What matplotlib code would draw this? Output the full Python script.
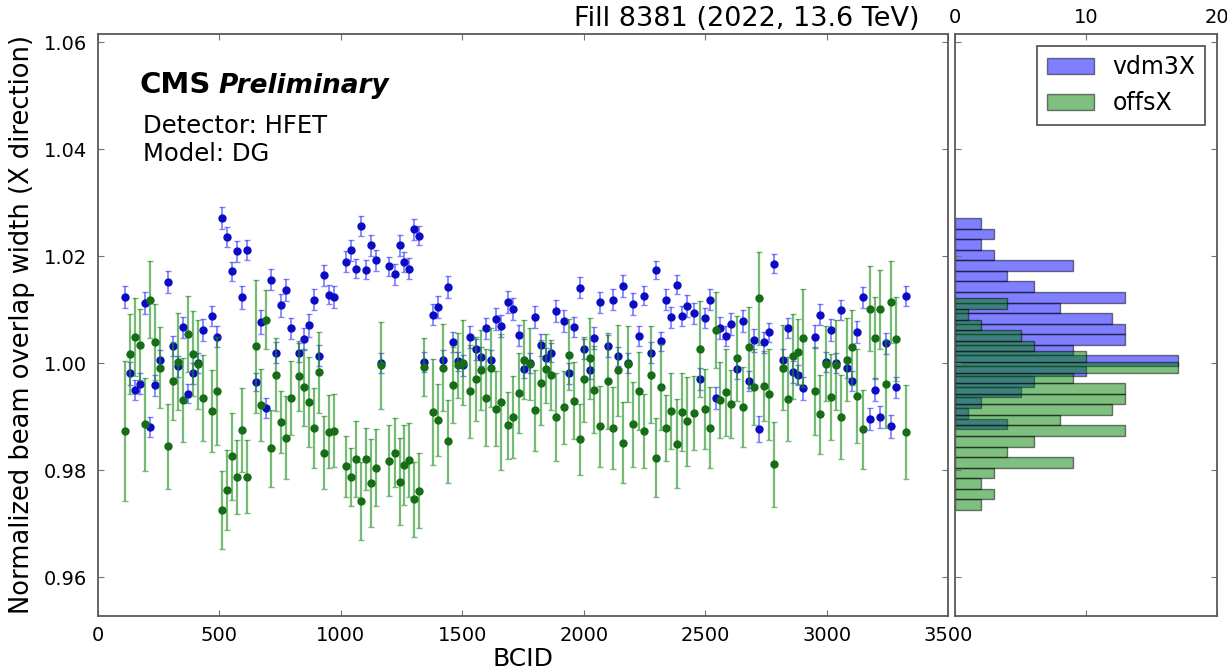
import matplotlib
matplotlib.use("Agg")
import matplotlib.pyplot as plt
import numpy as np

bcid = [110, 130, 151, 172, 192, 213, 233, 254, 288, 309, 330, 350, 371, 391, 412, 432,
        471, 491, 512, 533, 553, 574, 594, 615, 649, 670, 691, 711, 732, 752, 773, 794,
        828, 849, 869, 890, 912, 931, 952, 972, 1022, 1042, 1063, 1083, 1104, 1124, 1145, 1166,
        1200, 1221, 1242, 1262, 1282, 1303, 1323, 1344, 1379, 1399, 1420, 1440, 1461, 1482, 1502,
        1530, 1557, 1578, 1598, 1619, 1639, 1660, 1688, 1708, 1735, 1756, 1779, 1800, 1823, 1844,
        1865, 1886, 1919, 1940, 1962, 1983, 2003, 2024, 2044, 2065, 2099, 2120, 2141, 2161, 2182,
        2203, 2227, 2248, 2278, 2298, 2319, 2340, 2360, 2385, 2405, 2426, 2454, 2477, 2498, 2522,
        2543, 2563, 2584, 2605, 2632, 2654, 2679, 2700, 2721, 2742, 2763, 2783, 2820, 2841, 2861,
        2882, 2903, 2951, 2971, 2999, 3019, 3040, 3060, 3085, 3106, 3126, 3148, 3177, 3198, 3218,
        3243, 3264, 3284, 3327]

vdm3X = [1.0124, 0.9981, 0.9950, 0.9962, 1.0113, 0.9881, 0.9959, 1.0006, 1.0152, 1.0032, 0.9994, 1.0067, 0.9943, 0.9981, 1.0001, 1.0062,
         1.0088, 1.0050, 1.0271, 1.0236, 1.0172, 1.0209, 1.0123, 1.0211, 0.9965, 1.0077, 0.9917, 1.0156, 1.0020, 1.0108, 1.0137, 1.0065,
         1.0020, 1.0045, 1.0071, 1.0119, 1.0014, 1.0164, 1.0128, 1.0124, 1.0190, 1.0211, 1.0177, 1.0256, 1.0175, 1.0220, 1.0192, 1.0001,
         1.0181, 1.0166, 1.0220, 1.0189, 1.0177, 1.0250, 1.0238, 1.0002, 1.0091, 1.0105, 1.0006, 1.0142, 1.0040, 1.0004, 0.9996,
         1.0049, 1.0026, 1.0012, 1.0065, 1.0006, 1.0083, 1.0070, 1.0114, 1.0101, 1.0052, 0.9990, 1.0001, 1.0086, 1.0034, 1.0009,
         1.0020, 1.0098, 1.0079, 0.9981, 1.0068, 1.0141, 1.0027, 0.9988, 1.0047, 1.0114, 1.0032, 1.0119, 1.0013, 1.0144, 1.0001,
         1.0111, 1.0051, 1.0126, 1.0020, 1.0174, 1.0041, 1.0119, 1.0086, 1.0147, 1.0088, 1.0107, 1.0093, 0.9971, 1.0085, 1.0119,
         0.9935, 1.0066, 1.0051, 1.0073, 0.9990, 1.0079, 0.9967, 1.0043, 0.9877, 1.0039, 1.0058, 1.0186, 1.0006, 1.0066, 0.9984,
         0.9978, 0.9953, 1.0050, 1.0091, 1.0003, 1.0062, 1.0001, 1.0100, 0.9992, 0.9967, 1.0058, 1.0123, 0.9896, 0.9951, 0.9900,
         1.0037, 0.9882, 0.9955, 1.0126]

vdm3X_err = [0.0020, 0.0022, 0.0019, 0.0020, 0.0021, 0.0019, 0.0020, 0.0018, 0.0021, 0.0019, 0.0020, 0.0019, 0.0018, 0.0020, 0.0019, 0.0020,
             0.0019, 0.0020, 0.0021, 0.0019, 0.0018, 0.0020, 0.0021, 0.0019, 0.0017, 0.0023, 0.0019, 0.0020, 0.0019, 0.0021, 0.0020, 0.0019,
             0.0018, 0.0020, 0.0021, 0.0019, 0.0020, 0.0019, 0.0018, 0.0020, 0.0019, 0.0020, 0.0018, 0.0019, 0.0018, 0.0020, 0.0019, 0.0019,
             0.0018, 0.0019, 0.0020, 0.0018, 0.0019, 0.0019, 0.0018, 0.0019, 0.0020, 0.0021, 0.0019, 0.0021, 0.0019, 0.0018, 0.0019,
             0.0020, 0.0019, 0.0018, 0.0020, 0.0019, 0.0021, 0.0020, 0.0021, 0.0020, 0.0019, 0.0018, 0.0019, 0.0021, 0.0020, 0.0019,
             0.0018, 0.0020, 0.0021, 0.0020, 0.0019, 0.0020, 0.0019, 0.0018, 0.0021, 0.0020, 0.0020, 0.0019, 0.0018, 0.0021, 0.0019,
             0.0020, 0.0019, 0.0018, 0.0019, 0.0017, 0.0018, 0.0019, 0.0020, 0.0018, 0.0019, 0.0020, 0.0019, 0.0020, 0.0019, 0.0019,
             0.0021, 0.0020, 0.0019, 0.0020, 0.0019, 0.0020, 0.0019, 0.0021, 0.0024, 0.0020, 0.0018, 0.0018, 0.0020, 0.0019, 0.0020,
             0.0019, 0.0021, 0.0021, 0.0020, 0.0019, 0.0020, 0.0019, 0.0019, 0.0020, 0.0019, 0.0021, 0.0019, 0.0021, 0.0022, 0.0021,
             0.0020, 0.0021, 0.0019, 0.0019]

offsX = [0.9874, 1.0017, 1.0049, 1.0035, 0.9886, 1.0119, 1.0039, 0.9992, 0.9845, 0.9967, 1.0003, 0.9931, 1.0054, 1.0018, 0.9998, 0.9935,
         0.9911, 0.9948, 0.9726, 0.9763, 0.9826, 0.9788, 0.9875, 0.9788, 1.0032, 0.9922, 1.0081, 0.9841, 0.9979, 0.9890, 0.9861, 0.9935,
         0.9976, 0.9955, 0.9927, 0.9879, 0.9983, 0.9833, 0.9872, 0.9874, 0.9808, 0.9787, 0.9821, 0.9743, 0.9822, 0.9777, 0.9805, 0.9996,
         0.9818, 0.9833, 0.9779, 0.9810, 0.9820, 0.9746, 0.9762, 0.9993, 0.9909, 0.9894, 0.9992, 0.9854, 0.9960, 0.9996, 1.0001,
         0.9948, 0.9971, 0.9987, 0.9936, 0.9992, 0.9915, 0.9928, 0.9884, 0.9900, 0.9945, 1.0007, 0.9998, 0.9912, 0.9964, 0.9990,
         0.9978, 0.9900, 0.9918, 1.0016, 0.9930, 0.9858, 0.9970, 1.0009, 0.9951, 0.9882, 0.9967, 0.9879, 0.9987, 0.9852, 0.9998,
         0.9886, 0.9948, 0.9873, 0.9979, 0.9824, 0.9956, 0.9879, 0.9911, 0.9850, 0.9909, 0.9892, 0.9907, 1.0027, 0.9914, 0.9880,
         1.0062, 0.9931, 0.9946, 0.9924, 1.0009, 0.9918, 1.0030, 0.9955, 1.0121, 0.9958, 0.9942, 0.9811, 0.9992, 0.9933, 1.0013,
         1.0022, 1.0047, 0.9948, 0.9905, 0.9999, 0.9937, 0.9996, 0.9900, 1.0007, 1.0030, 0.9939, 0.9877, 1.0102, 1.0047, 1.0101,
         0.9962, 1.0114, 1.0045, 0.9871]

offsX_err = [0.0131, 0.0075, 0.0073, 0.0067, 0.0087, 0.0072, 0.0071, 0.0075, 0.0079, 0.0072, 0.0090, 0.0078, 0.0071, 0.0080, 0.0083, 0.0081,
             0.0077, 0.0101, 0.0072, 0.0075, 0.0082, 0.0069, 0.0078, 0.0068, 0.0124, 0.0067, 0.0055, 0.0072, 0.0068, 0.0058, 0.0077, 0.0069,
             0.0065, 0.0072, 0.0084, 0.0074, 0.0076, 0.0068, 0.0068, 0.0068, 0.0057, 0.0054, 0.0071, 0.0073, 0.0058, 0.0082, 0.0072, 0.0081,
             0.0066, 0.0065, 0.0081, 0.0075, 0.0069, 0.0070, 0.0070, 0.0055, 0.0099, 0.0068, 0.0081, 0.0078, 0.0071, 0.0061, 0.0079,
             0.0087, 0.0078, 0.0075, 0.0090, 0.0073, 0.0070, 0.0127, 0.0063, 0.0076, 0.0075, 0.0073, 0.0067, 0.0075, 0.0080, 0.0065,
             0.0066, 0.0082, 0.0068, 0.0066, 0.0072, 0.0066, 0.0079, 0.0075, 0.0081, 0.0076, 0.0089, 0.0076, 0.0085, 0.0076, 0.0071,
             0.0079, 0.0073, 0.0069, 0.0090, 0.0074, 0.0080, 0.0061, 0.0071, 0.0083, 0.0072, 0.0083, 0.0069, 0.0090, 0.0075, 0.0076,
             0.0071, 0.0071, 0.0081, 0.0064, 0.0079, 0.0075, 0.0076, 0.0071, 0.0087, 0.0065, 0.0085, 0.0079, 0.0079, 0.0078, 0.0079,
             0.0061, 0.0092, 0.0082, 0.0074, 0.0070, 0.0080, 0.0084, 0.0079, 0.0078, 0.0070, 0.0088, 0.0074, 0.0079, 0.0077, 0.0074,
             0.0082, 0.0077, 0.0078, 0.0088]

series_labels = ["vdm3X", "offsX"]
title_text = "Fill 8381 (2022, 13.6 TeV)"

plt.rcParams['font.family'] = ['DejaVu Sans']

W, H = 1227, 671
fig = plt.figure(figsize=(W / 100, H / 100), dpi=100)
fig.patch.set_facecolor('white')

def fx(px):
    return px / W

def fy(py):
    return 1 - py / H

ax = fig.add_axes([fx(98), fy(616), fx(948) - fx(98), fy(34) - fy(616)])
axh = fig.add_axes([fx(955), fy(616), fx(1217) - fx(955), fy(34) - fy(616)], sharey=ax)

frame_col = '0.35'
for a in (ax, axh):
    for s in a.spines.values():
        s.set_color(frame_col)
        s.set_linewidth(1.3)
    a.tick_params(which='both', direction='in', length=4, width=0.8, color='0.45',
                  top=True, right=True, labelsize=14)

ax.errorbar(bcid, vdm3X, yerr=vdm3X_err, fmt='o', color='#0b0bc4', ms=5, mec='#0b0bc4',
            ecolor=(0.25, 0.25, 1.0, 0.65), elinewidth=1.3, capsize=2.5, capthick=1.0, zorder=2)
ax.errorbar(bcid, offsX, yerr=offsX_err, fmt='o', color='#176c17', ms=5, mec='#176c17',
            ecolor=(0.1, 0.55, 0.1, 0.6), elinewidth=1.6, capsize=2.5, capthick=1.0, zorder=3)

ax.set_xlim(0, 3500)
ax.set_ylim(0.9528, 1.0615)
ax.set_xticks([0, 500, 1000, 1500, 2000, 2500, 3000, 3500])
ax.set_yticks([0.96, 0.98, 1.00, 1.02, 1.04, 1.06])
ax.set_yticklabels(['0.96', '0.98', '1.00', '1.02', '1.04', '1.06'])
ax.tick_params(axis='x', pad=7)
ax.tick_params(axis='y', pad=8)
ax.set_xlabel('BCID', fontsize=18, labelpad=2)
ax.set_ylabel('Normalized beam overlap width (X direction)', fontsize=18.5, labelpad=6)

ax.text(0.049, 0.899, 'CMS', transform=ax.transAxes, fontsize=21, fontweight='bold', va='baseline')
ax.text(0.1412, 0.899, 'Preliminary', transform=ax.transAxes, fontsize=19, fontweight='bold',
        fontstyle='italic', va='baseline')
ax.text(0.053, 0.830, 'Detector: HFET', transform=ax.transAxes, fontsize=17.5, va='baseline')
ax.text(0.053, 0.782, 'Model: DG', transform=ax.transAxes, fontsize=17.5, va='baseline')

fig.text(fx(920), fy(26.5), title_text, ha='right', va='baseline', fontsize=19.5)

axh.hist(vdm3X, bins=20, orientation='horizontal', color='blue', alpha=0.5,
         edgecolor='black', linewidth=1.0, label=series_labels[0])
axh.hist(offsX, bins=20, orientation='horizontal', color='green', alpha=0.5,
         edgecolor='black', linewidth=1.0, label=series_labels[1])
axh.set_xlim(0, 20)
axh.set_xticks([0, 10, 20])
axh.xaxis.set_ticks_position('both')
axh.tick_params(axis='x', labeltop=True, labelbottom=False, pad=5)
axh.tick_params(axis='y', labelleft=False, labelright=False)
leg = axh.legend(loc='upper right', fontsize=17, fancybox=False, framealpha=1,
                 edgecolor='0.3', borderaxespad=0.5)
leg.get_frame().set_linewidth(1.2)

fig.savefig('out.png', dpi=100, facecolor='white')
